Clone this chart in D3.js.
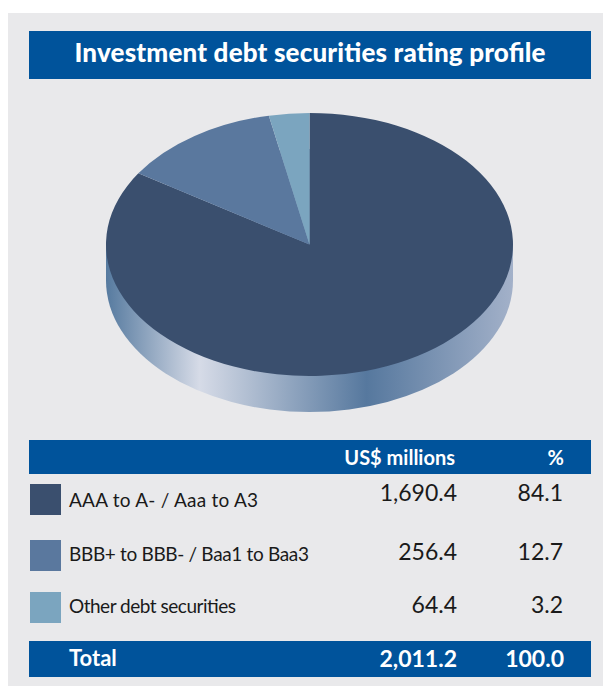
<!DOCTYPE html>
<html>
<head>
<meta charset="utf-8">
<script src="https://d3js.org/d3.v7.min.js"></script>
<style>
  html, body { margin: 0; padding: 0; background: #fff; }
  svg { display: block; }
  text { font-family: "Lato", sans-serif; }
</style>
</head>
<body>
<script>
var title = "Investment debt securities rating profile"
var categories = ["AAA to A- / Aaa to A3", "BBB+ to BBB- / Baa1 to Baa3", "Other debt securities"]
var usdValues = [1690.4, 256.4, 64.4]
var pctValues = [84.1, 12.7, 3.2]
var usdHeader = "US$ millions"
var pctHeader = "%"
var totalLabel = "Total"
var usdTotal = 2011.2
var pctTotal = 100.0
var sliceColors = ["#3a4f6e", "#5a789e", "#7ba5bf"]

var width = 603, height = 686
var blue = "#00539b"

var svg = d3.select("body").append("svg")
    .attr("width", width)
    .attr("height", height)

svg.append("rect").attr("x", 8).attr("y", 13).attr("width", width - 8).attr("height", height - 13).attr("fill", "#e9e9eb")

// title bar
svg.append("rect").attr("x", 29).attr("y", 31).attr("width", 562).attr("height", 48).attr("fill", blue)
svg.append("text").attr("x", 310).attr("y", 62)
    .attr("text-anchor", "middle").attr("fill", "#fff")
    .attr("textLength", 471)
    .style("font-size", "26px").style("font-weight", 900)
    .text(title)

// pie, flattened into an ellipse
var cx = 309.5, cy = 244.5, rx = 203.5, ry = 131.5, depth = 36

var grad = svg.append("defs").append("linearGradient")
    .attr("id", "wall")
    .attr("gradientUnits", "userSpaceOnUse")
    .attr("x1", -rx).attr("x2", rx).attr("y1", 0).attr("y2", 0)
grad.selectAll("stop")
    .data([[0, "#567a9f"], [0.23, "#d6dbe7"], [0.64, "#56789e"], [1, "#a3b1c9"]])
    .enter().append("stop")
    .attr("offset", function(d) { return d[0] })
    .attr("stop-color", function(d) { return d[1] })

var pie = d3.pie().sort(null)
var slices = pie(pctValues)
var arc = d3.arc().innerRadius(0).outerRadius(rx)

// side wall: lower ellipse plus the band up to the top face
svg.append("path")
    .attr("transform", "translate(" + cx + "," + (cy + depth) + ") scale(1," + (ry / rx) + ")")
    .attr("d", arc({startAngle: 0, endAngle: 2 * Math.PI}))
    .attr("fill", "url(#wall)")
svg.append("rect")
    .attr("transform", "translate(" + cx + "," + cy + ")")
    .attr("x", -rx).attr("y", 0).attr("width", 2 * rx).attr("height", depth)
    .attr("fill", "url(#wall)")

svg.append("g")
    .attr("transform", "translate(" + cx + "," + cy + ") scale(1," + (ry / rx) + ")")
    .selectAll("path")
    .data(slices)
    .enter().append("path")
    .attr("d", arc)
    .attr("fill", function(d, i) { return sliceColors[i] })

// table
var fmt = d3.format(",.1f")
var usdX = 457, pctX = 564

svg.append("rect").attr("x", 29).attr("y", 440).attr("width", 562).attr("height", 34).attr("fill", blue)
svg.append("rect").attr("x", 29).attr("y", 641).attr("width", 562).attr("height", 36).attr("fill", blue)

function cell(x, y, txt, anchor, size, weight, color) {
  return svg.append("text").attr("x", x).attr("y", y)
      .attr("text-anchor", anchor).attr("fill", color)
      .style("font-size", size + "px").style("font-weight", weight)
      .text(txt)
}

cell(455, 465, usdHeader, "end", 20, 700, "#fff")
cell(pctX, 465, pctHeader, "end", 20, 700, "#fff")

var swatchY = [484, 540, 592]
var labelY = [507, 561, 613]
var valueY = [501, 560, 613]
var labelWidth = [189, 240, 167]

categories.forEach(function(c, i) {
  svg.append("rect").attr("x", 30).attr("y", swatchY[i]).attr("width", 31).attr("height", 31).attr("fill", sliceColors[i])
  cell(69, labelY[i], c, "start", 19, 400, "#1a1a1a").attr("textLength", labelWidth[i])
  cell(usdX, valueY[i], fmt(usdValues[i]), "end", 23, 400, "#1a1a1a")
  cell(pctX - 1, valueY[i], fmt(pctValues[i]), "end", 23, 400, "#1a1a1a")
})

cell(69, 666, totalLabel, "start", 22, 700, "#fff")
cell(usdX, 667, fmt(usdTotal), "end", 23, 700, "#fff")
cell(pctX, 667, fmt(pctTotal), "end", 23, 700, "#fff")
</script>
</body>
</html>
